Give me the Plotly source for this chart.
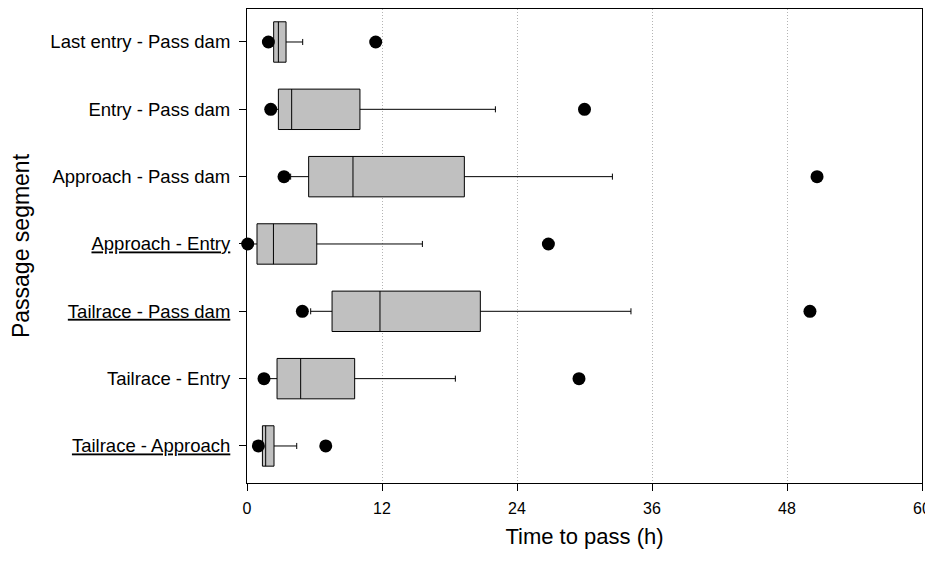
import plotly.graph_objects as go

# passage segments, bottom to top
segments = ['<u>Tailrace - Approach</u>', 'Tailrace - Entry', '<u>Tailrace - Pass dam</u>',
            '<u>Approach - Entry</u>', 'Approach - Pass dam', 'Entry - Pass dam',
            'Last entry - Pass dam']

# percentiles of time to pass (h)
p5 = [1.01, 1.51, 4.92, 0.06, 3.29, 2.11, 1.90]
p10 = [1.20, 1.80, 5.66, 0.50, 3.88, 2.40, 2.10]
q1 = [1.37, 2.67, 7.56, 0.89, 5.48, 2.79, 2.37]
med = [1.66, 4.77, 11.82, 2.35, 9.42, 3.97, 2.79]
q3 = [2.40, 9.57, 20.74, 6.20, 19.32, 10.04, 3.47]
p90 = [4.42, 18.52, 34.13, 15.59, 32.48, 22.08, 4.95]
p95 = [7.00, 29.51, 50.04, 26.79, 50.67, 30.00, 11.44]

x_ticks = [0, 12, 24, 36, 48, 60]

font_name = 'Liberation Sans, Arial, sans-serif'

fig = go.Figure()

fig.add_trace(go.Box(
    y=segments, q1=q1, median=med, q3=q3,
    lowerfence=p10, upperfence=p90,
    orientation='h', width=0.6, whiskerwidth=0.15,
    fillcolor='#c0c0c0', line=dict(color='#000000', width=1),
    boxpoints=False, showlegend=False
))

# 5th and 95th percentiles as dots
fig.add_trace(go.Scatter(
    x=p5 + p95, y=segments + segments, mode='markers',
    marker=dict(color='black', size=13),
    cliponaxis=False, showlegend=False
))

# page body adds an 8px offset, so the figure is a bit smaller than the window
fig.update_layout(
    width=925, height=553,
    margin=dict(l=239, r=11, t=1, b=78),
    plot_bgcolor='white', paper_bgcolor='white',
    font=dict(family=font_name, color='black'),
)

fig.update_xaxes(
    range=[0, 60], tickvals=x_ticks, ticktext=[str(t) for t in x_ticks],
    showgrid=True, gridcolor='#b4b4b4', griddash='1px,2px', gridwidth=1,
    zeroline=False, showline=True, linecolor='black', linewidth=1, mirror=True,
    ticks='outside', ticklen=7, tickcolor='black',
    tickfont=dict(size=16), ticklabelstandoff=4,
    title=dict(text='Time to pass (h)', font=dict(size=22), standoff=12)
)

fig.update_yaxes(
    type='category', categoryorder='array', categoryarray=segments,
    range=[-0.55, 6.49],
    showgrid=False, zeroline=False,
    showline=True, linecolor='black', linewidth=1, mirror=True,
    ticks='outside', ticklen=7, tickcolor='black',
    tickfont=dict(size=18.5), ticklabelstandoff=5,
    title=dict(text='Passage segment', font=dict(size=23), standoff=14)
)

fig.write_html('out.html')
